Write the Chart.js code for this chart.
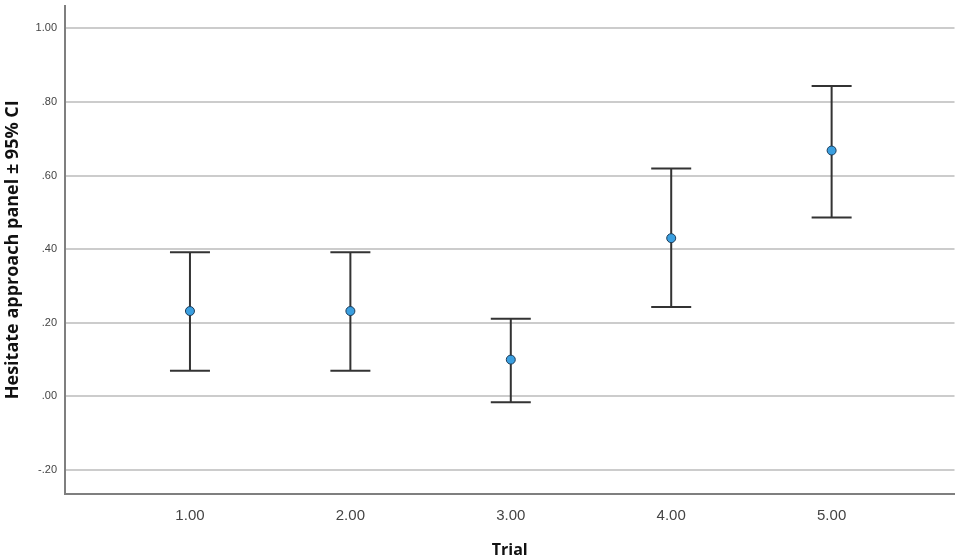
<!DOCTYPE html>
<html>
<head>
<meta charset="utf-8">
<script src="https://cdn.jsdelivr.net/npm/chart.js@4/dist/chart.umd.min.js"></script>
<style>
  html, body { margin: 0; padding: 0; background: #fff; }
  #wrap { position: relative; width: 960px; height: 560px; }
</style>
</head>
<body>
<div id="wrap"><canvas id="ci"></canvas></div>
<script>
const trials = [1, 2, 3, 4, 5]
const means = [0.232, 0.232, 0.100, 0.430, 0.668]
const upper = [0.392, 0.392, 0.211, 0.619, 0.843]
const lower = [0.070, 0.070, -0.016, 0.243, 0.486]
const yTicks = [-0.2, 0, 0.2, 0.4, 0.6, 0.8, 1.0]

function fmt(v) {
    const s = v.toFixed(2)
    return s.replace(/^0\./, ".").replace(/^-0\./, "-.")
}

// whiskers + caps drawn before the points
const errorBars = {
    id: "errorBars",
    beforeDatasetsDraw(chart) {
        const ctx = chart.ctx
        const x = chart.scales.x, y = chart.scales.y
        ctx.save()
        ctx.strokeStyle = "#333333"
        ctx.lineWidth = 2
        trials.forEach((t, i) => {
            const px = x.getPixelForValue(t)
            const top = y.getPixelForValue(upper[i])
            const bot = y.getPixelForValue(lower[i])
            ctx.beginPath()
            ctx.moveTo(px, top); ctx.lineTo(px, bot)
            ctx.moveTo(px - 20, top); ctx.lineTo(px + 20, top)
            ctx.moveTo(px - 20, bot); ctx.lineTo(px + 20, bot)
            ctx.stroke()
        })
        ctx.restore()
    }
}

new Chart("ci", {
    type: "scatter",
    data: {
        datasets: [{
            data: trials.map((t, i) => ({ x: t, y: means[i] })),
            backgroundColor: "#3a9fe0",
            borderColor: "#1d3b57",
            borderWidth: 1,
            pointRadius: 4.5,
            pointHoverRadius: 4.5
        }]
    },
    options: {
        responsive: true,
        maintainAspectRatio: false,
        animation: false,
        layout: { padding: { top: 3, right: 5, left: 0, bottom: 0 } },
        plugins: { legend: { display: false }, tooltip: { enabled: false } },
        scales: {
            x: {
                type: "linear",
                min: 0.221,
                max: 5.766,
                afterBuildTicks: s => { s.ticks = trials.map(v => ({ value: v })) },
                afterFit: s => { s.height = 66; s.paddingLeft = 0; s.paddingRight = 0 },
                grid: { drawOnChartArea: false, drawTicks: false },
                border: { display: true, color: "#7f7f7f", width: 2 },
                ticks: {
                    callback: v => v.toFixed(2),
                    color: "#444",
                    font: { family: "Liberation Sans", size: 15 },
                    padding: 13
                },
                title: {
                    display: true,
                    text: "Trial",
                    color: "#111",
                    font: { family: "Open Sans", size: 16, weight: "bold" },
                    padding: { top: 8, bottom: 0 }
                }
            },
            y: {
                min: -0.265,
                max: 1.062,
                afterBuildTicks: s => { s.ticks = yTicks.map(v => ({ value: v })) },
                afterFit: s => { s.width = 65; s.paddingTop = 0; s.paddingBottom = 0 },
                grid: { color: "#cccccc", lineWidth: 2, drawTicks: false },
                border: { display: true, color: "#7f7f7f", width: 2 },
                ticks: {
                    callback: v => fmt(v),
                    color: "#444",
                    font: { family: "Liberation Sans", size: 11 },
                    padding: 8
                },
                title: {
                    display: true,
                    text: "Hesitate approach panel ± 95% CI",
                    color: "#111",
                    font: { family: "Open Sans", size: 18, weight: "bold" },
                    padding: { top: 2, bottom: 0 }
                }
            }
        }
    },
    plugins: [errorBars]
})
</script>
</body>
</html>
